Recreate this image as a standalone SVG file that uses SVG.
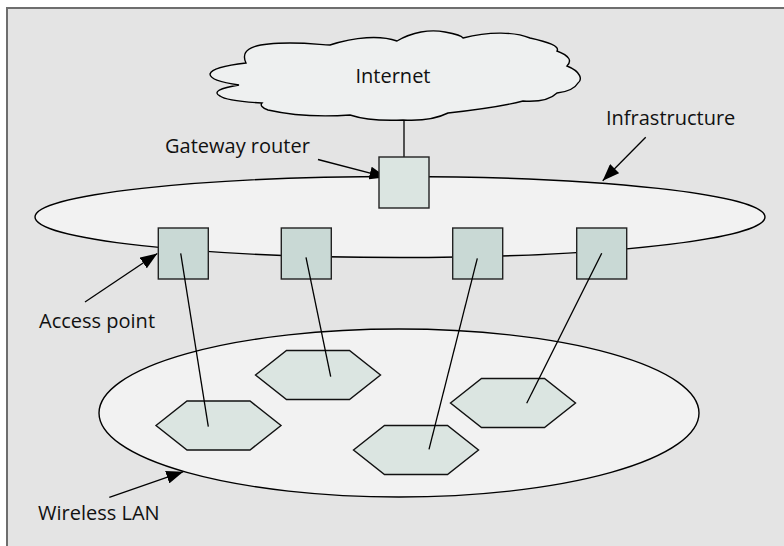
<svg xmlns="http://www.w3.org/2000/svg" width="784" height="546" viewBox="0 0 784 546">
<defs>
<style>
text{font-family:"Open Sans","Noto Sans","Liberation Sans",sans-serif;font-size:20px;fill:#111}
.ell{fill:#f2f2f2;stroke:#000;stroke-width:1.4}
.ap{fill:#c9d9d5;stroke:#222;stroke-width:1.4}
.rt{fill:#dbe5e1;stroke:#222;stroke-width:1.4}
.hex{fill:#dbe5e1;stroke:#111;stroke-width:1.4}
.ln{stroke:#000;stroke-width:1.3;fill:none}
.arr{stroke:#000;stroke-width:1.3;fill:none;marker-end:url(#ah)}
</style>
<marker id="ah" markerUnits="userSpaceOnUse" markerWidth="18" markerHeight="13" refX="17" refY="6.5" orient="auto">
<path d="M0,0 L17,6.5 L0,13 z" fill="#000"/>
</marker>
</defs>
<rect x="0" y="0" width="784" height="546" fill="#fff"/>
<rect x="7" y="8" width="777" height="538" fill="#e4e4e4"/>
<path d="M7,546 V8 H784" fill="none" stroke="#6e6e6e" stroke-width="2"/>

<g id="wireless-lan"><ellipse class="ell" cx="399" cy="413" rx="300" ry="84"/></g>

<g id="hosts">
<polygon id="host1" class="hex" points="156,425.5 187,401 250,401 281,425.5 250,450 187,450"/>
<polygon id="host2" class="hex" points="255.5,375 286.5,350.5 349.5,350.5 380.5,375 349.5,399.5 286.5,399.5"/>
<polygon id="host3" class="hex" points="353.5,450 384.5,425.5 447.5,425.5 478.5,450 447.5,474.5 384.5,474.5"/>
<polygon id="host4" class="hex" points="450.5,403 481.5,378.5 544.5,378.5 575.5,403 544.5,427.5 481.5,427.5"/>
</g>

<g id="infrastructure"><ellipse class="ell" cx="400" cy="217" rx="365" ry="40.5"/></g>

<g id="internet">
<path d="M246,63 C238,46 262,43 290,43 C312,43 322,45 330,45 C355,37 380,35 397,41 C412,32 430,29 445,32 C456,34 462,36 463,38 C490,31 515,32 530,38 C548,42 560,46 557,51 C570,56 572,61 567,66 C582,72 582,80 578,83 C574,90 566,92 557,93 C550,100 538,102 523,101 C500,107 475,110 448,113 C436,119 420,121 403,120 C380,121 362,119 350,115 C320,117 290,115 268,110 C262,108 260,105 262,103 C245,102 225,100 220,96 C212,92 220,88 239,85 C225,83 210,80 210,74 C212,68 228,65 246,63 Z" fill="#eef0f0" stroke="#000" stroke-width="1.4"/>
<text x="393" y="83" text-anchor="middle">Internet</text>
</g>

<g id="connectors">
<line class="ln" x1="404" y1="120" x2="404" y2="157"/>
<line class="arr" x1="318" y1="159.5" x2="386.5" y2="177.3"/>
<line class="arr" x1="645.7" y1="137.3" x2="602.7" y2="180.7"/>
<line class="arr" x1="85" y1="302" x2="157.3" y2="253.5"/>
<line class="arr" x1="109.3" y1="497.3" x2="183.3" y2="471.7"/>
</g>

<g id="gateway-router"><rect class="rt" x="379" y="157" width="50" height="51"/></g>
<g id="ap1"><rect class="ap" x="158.3" y="228" width="50" height="51"/></g>
<g id="ap2"><rect class="ap" x="281.3" y="228" width="50" height="51"/></g>
<g id="ap3"><rect class="ap" x="452.7" y="228" width="50" height="51"/></g>
<g id="ap4"><rect class="ap" x="576.7" y="228" width="50" height="51"/></g>

<g id="links">
<line class="ln" x1="180.7" y1="253.3" x2="208.3" y2="426.7"/>
<line class="ln" x1="306" y1="257.3" x2="330.7" y2="376.7"/>
<line class="ln" x1="477.3" y1="258.3" x2="429" y2="449.3"/>
<line class="ln" x1="601.7" y1="253.3" x2="526.7" y2="403.3"/>
</g>

<g id="labels">
<text x="165" y="153">Gateway router</text>
<text x="606" y="125">Infrastructure</text>
<text x="39" y="328">Access point</text>
<text x="38" y="520">Wireless LAN</text>
</g>
</svg>
